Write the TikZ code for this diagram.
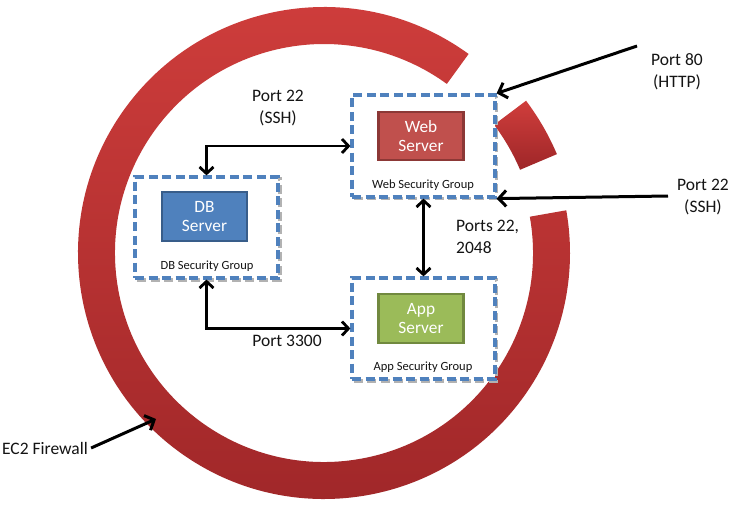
\documentclass[tikz,border=0pt]{standalone}
\usepackage{fontspec}
\setmainfont{Carlito}
\usetikzlibrary{arrows.meta}
\definecolor{ringtop}{RGB}{208,62,60}
\definecolor{ringbot}{RGB}{158,38,40}
\definecolor{webfill}{RGB}{192,80,77}
\definecolor{webline}{RGB}{140,56,54}
\definecolor{dbfill}{RGB}{79,129,189}
\definecolor{dbline}{RGB}{56,93,138}
\definecolor{appfill}{RGB}{155,187,89}
\definecolor{appline}{RGB}{113,137,63}
\definecolor{grpline}{RGB}{79,129,189}
\definecolor{txt}{RGB}{20,20,20}
\tikzset{
  group/.style={draw=grpline, line width=3.2pt, dash pattern=on 9pt off 4.5pt,
    minimum width=143pt, minimum height=101pt, inner sep=0pt, fill=white},
  grpshadow/.style={draw=black!30, line width=3.2pt, dash pattern=on 9pt off 4.5pt,
    minimum width=143pt, minimum height=101pt, inner sep=0pt},
  server/.style={line width=2.4pt, minimum width=85pt, minimum height=48pt, inner sep=0pt,
    text=white, align=center, font=\fontsize{17.3}{19}\selectfont},
  grplabel/.style={font=\fontsize{12.5}{14}\selectfont, text=txt, inner sep=0pt},
  portlabel/.style={font=\fontsize{17.5}{22}\selectfont, text=txt, inner sep=0pt},
  conn/.style={line width=2.8pt, draw=black,
    {Straight Barb[length=6.5pt,width=14pt]}-{Straight Barb[length=6.5pt,width=14pt]}},
  inarrow/.style={line width=3pt, draw=black, -{Straight Barb[length=7.5pt,width=16pt]}}
}
\begin{document}
\begin{tikzpicture}[x=1pt,y=-1pt]
\useasboundingbox[fill=white] (0,0) rectangle (732,511);

% firewall ring
\begin{scope}[shift={(324,253)}]
  \shade[top color=ringtop,bottom color=ringbot]
    (-54:246) arc[start angle=-54,end angle=-370,radius=246]
    -- (-370:209) arc[start angle=-370,end angle=-54,radius=209] -- cycle;
  \shade[top color=ringtop,bottom color=ringbot]
    (-23:213) arc[start angle=-23,end angle=-37,radius=213]
    -- (-37:253) arc[start angle=-37,end angle=-23,radius=253] -- cycle;
\end{scope}

% shadows of groups
\node[grpshadow] at (425,148) {};
\node[grpshadow] at (208.5,229.5) {};
\node[grpshadow] at (425,330.5) {};

% security groups
\node[group, minimum height=102pt] (webg) at (423.5,146) {};
\node[group] (dbg) at (206.5,227.5) {};
\node[group] (appg) at (423.5,328.5) {};

% servers
\node[server, fill=webfill, draw=webline] (web) at (421,136) {Web\\Server};
\node[server, fill=dbfill, draw=dbline, minimum height=49pt] (db) at (204.5,216.5) {DB\\Server};
\node[server, fill=appfill, draw=appline, minimum height=49pt] (app) at (421,318.5) {App\\Server};

% group labels
\node[grplabel] (webl) at (423,185) {Web Security Group};
\node[grplabel] (dbl) at (207,266) {DB Security Group};
\node[grplabel] (appl) at (423,367) {App Security Group};

% internal connectors
\draw[conn] (dbg.north) |- (webg.west);
\draw[conn] (dbg.south) |- (appg.west);
\draw[conn] (webg.south) -- (appg.north);

% port labels
\node[portlabel, align=center] (p22a) at (278,108) {Port 22\\(SSH)};
\node[portlabel, align=left, anchor=west] (p2048) at (456,237) {Ports 22,\\2048};
\node[portlabel] (p3300) at (287,341) {Port 3300};
\node[portlabel, align=center] (p80) at (677,72) {Port 80\\(HTTP)};
\node[portlabel, align=center] (p22b) at (703,197) {Port 22\\(SSH)};
\node[portlabel] (ec2) at (45,448) {EC2 Firewall};

% external arrows
\coordinate (p80s) at (637,46);
\coordinate (p22s) at (668,196);
\coordinate (ringhit) at (156,419);
\draw[inarrow] (p80s) -- (webg.north east);
\draw[inarrow] (p22s) -- (webg.south east);
\draw[inarrow] ([xshift=3pt]ec2.east) -- (ringhit);
\end{tikzpicture}
\end{document}
